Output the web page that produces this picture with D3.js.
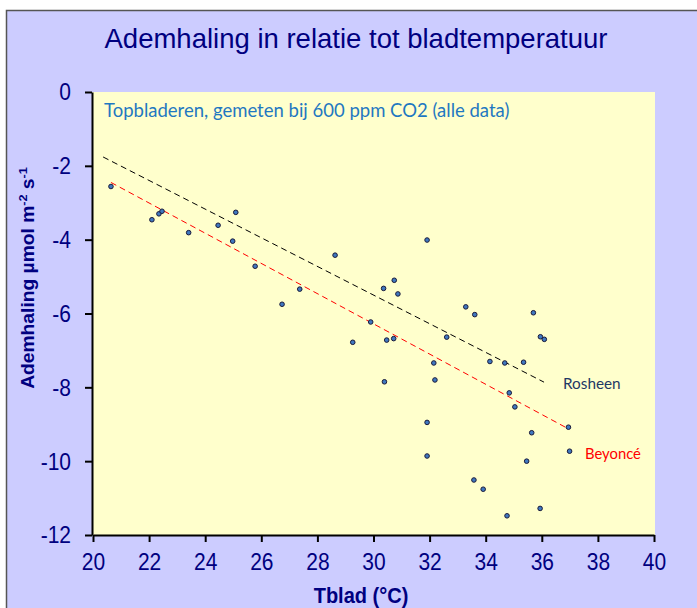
<!DOCTYPE html>
<html>
<head>
<meta charset="utf-8">
<script src="https://cdn.jsdelivr.net/npm/d3@7"></script>
<style>
  html, body { margin: 0; padding: 0; background: #ffffff; }
  svg { display: block; }
</style>
</head>
<body>
<script>
// Leaf temperature (°C) and respiration (µmol m-2 s-1), all measurements
const tblad = [20.64, 22.10, 22.35, 22.46, 23.41, 24.46, 25.09, 24.98, 25.78,
  26.74, 27.37, 28.63, 29.26, 29.90, 30.36, 30.39, 30.47, 30.72, 30.74, 30.87,
  31.91, 31.91, 31.91, 32.15, 32.19, 32.61, 33.29, 33.58, 33.61, 33.91, 34.15,
  34.68, 34.76, 34.84, 35.04, 35.35, 35.46, 35.64, 35.70, 35.94, 35.95, 36.09,
  36.95, 36.99];
const ademhaling = [-2.56, -3.46, -3.30, -3.23, -3.81, -3.61, -3.26, -4.04, -4.72,
  -5.75, -5.34, -4.42, -6.78, -6.23, -5.32, -7.85, -6.72, -6.68, -5.10, -5.47,
  -4.01, -8.95, -9.86, -7.34, -7.80, -6.64, -5.82, -10.51, -6.03, -10.76, -7.30,
  -7.34, -11.48, -8.15, -8.53, -7.32, -10.00, -9.23, -5.98, -11.28, -6.63, -6.70,
  -9.08, -9.73];

// Fitted trend lines: [start, end] in data units
const rosheenX = [20.36, 36.08];
const rosheenY = [-1.76, -7.86];
const beyonceX = [20.64, 36.89];
const beyonceY = [-2.45, -9.10];

const xTicks = [20, 22, 24, 26, 28, 30, 32, 34, 36, 38, 40];
const yTicks = [0, -2, -4, -6, -8, -10, -12];

const W = 697, H = 608;
const plot = { left: 92, right: 655, top: 92, bottom: 535 };
const navy = "#000080";
const arial = "'Liberation Sans', Arial, sans-serif";
const calibri = "Lato, 'Open Sans', sans-serif";
const stretch = 1.1; // tall, narrow look of the axis lettering

const svg = d3.select("body").append("svg")
  .attr("width", W).attr("height", H);

// chart area background and frame
svg.append("rect").attr("x", 6).attr("y", 10).attr("width", W - 6).attr("height", H - 10)
  .attr("fill", "#ccccff");
svg.append("path").attr("d", `M6.5,${H} V10.5 H${W}`)
  .attr("fill", "none").attr("stroke", "#555555").attr("stroke-width", 1.5);

// plot area
svg.append("rect")
  .attr("x", plot.left).attr("y", plot.top)
  .attr("width", plot.right - plot.left).attr("height", plot.bottom - plot.top)
  .attr("fill", "#ffffcc");

const x = d3.scaleLinear().domain([20, 40]).range([plot.left + 1, plot.right - 1]);
const y = d3.scaleLinear().domain([-12, 0]).range([plot.bottom, plot.top]);

const plain = d => String(d); // hyphen-minus, as in the source sheet

// axes
const xAxis = svg.append("g")
  .attr("transform", `translate(0,${plot.bottom})`)
  .call(d3.axisBottom(x).tickValues(xTicks).tickFormat(plain)
    .tickSize(7).tickPadding(12).tickSizeOuter(0));
const yAxis = svg.append("g")
  .attr("transform", `translate(${plot.left},0)`)
  .call(d3.axisLeft(y).tickValues(yTicks).tickFormat(plain)
    .tickSize(7).tickPadding(14).tickSizeOuter(0));

[xAxis, yAxis].forEach(g => {
  g.select(".domain").attr("stroke", "#000").attr("stroke-width", 2);
  g.selectAll(".tick line").attr("stroke", "#000").attr("stroke-width", 2);
  g.selectAll(".tick text")
    .attr("fill", navy)
    .style("font-family", arial)
    .style("font-size", "21px")
    .attr("transform", `scale(1,${stretch})`);
});
yAxis.selectAll(".tick text").attr("dy", "0.34em");
xAxis.selectAll(".tick text").attr("y", 19 / stretch).attr("dy", "0.71em");

// trend lines
const line = d3.line().x(d => x(d[0])).y(d => y(d[1]));
svg.append("path")
  .datum(rosheenX.map((v, i) => [v, rosheenY[i]]))
  .attr("d", line).attr("fill", "none")
  .attr("stroke", "#000").attr("stroke-width", 1).attr("stroke-dasharray", "6,4");
svg.append("path")
  .datum(beyonceX.map((v, i) => [v, beyonceY[i]]))
  .attr("d", line).attr("fill", "none")
  .attr("stroke", "#ff0000").attr("stroke-width", 1).attr("stroke-dasharray", "6,4");

// measurements
svg.append("g").selectAll("circle")
  .data(tblad.map((t, i) => [t, ademhaling[i]]))
  .join("circle")
  .attr("cx", d => x(d[0])).attr("cy", d => y(d[1]))
  .attr("r", 2.3)
  .attr("fill", "#3f78c0").attr("stroke", "#1a1a3a").attr("stroke-width", 1);

// titles and labels
svg.append("text")
  .attr("x", 356).attr("y", 48).attr("text-anchor", "middle")
  .attr("fill", navy)
  .style("font-family", arial)
  .style("font-size", "27.5px")
  .text("Ademhaling in relatie tot bladtemperatuur");

svg.append("text")
  .attr("x", 104).attr("y", 117)
  .attr("fill", "#1f78c1")
  .style("font-family", calibri)
  .style("font-size", "18.5px")
  .text("Topbladeren, gemeten bij 600 ppm CO2 (alle data)");

svg.append("text")
  .attr("x", 563).attr("y", 389)
  .attr("fill", "#1f3864")
  .style("font-family", calibri)
  .style("font-size", "15.3px")
  .text("Rosheen");

svg.append("text")
  .attr("x", 585).attr("y", 459)
  .attr("fill", "#ff0000")
  .style("font-family", calibri)
  .style("font-size", "14.8px")
  .text("Beyoncé");

svg.append("text")
  .attr("transform", `translate(361,603) scale(1,${stretch})`)
  .attr("text-anchor", "middle")
  .attr("fill", navy)
  .style("font-family", arial)
  .style("font-size", "20px").style("font-weight", "bold")
  .text("Tblad (°C)");

const yl = svg.append("text")
  .attr("transform", `translate(34,278) rotate(-90) scale(${stretch},1)`)
  .attr("text-anchor", "middle")
  .attr("fill", navy)
  .style("font-family", arial)
  .style("font-size", "17.5px").style("font-weight", "bold");
yl.append("tspan").text("Ademhaling µmol m");
yl.append("tspan").attr("dy", -7).style("font-size", "11.5px").text("-2");
yl.append("tspan").attr("dy", 7).text(" s");
yl.append("tspan").attr("dy", -7).style("font-size", "11.5px").text("-1");
</script>
</body>
</html>
